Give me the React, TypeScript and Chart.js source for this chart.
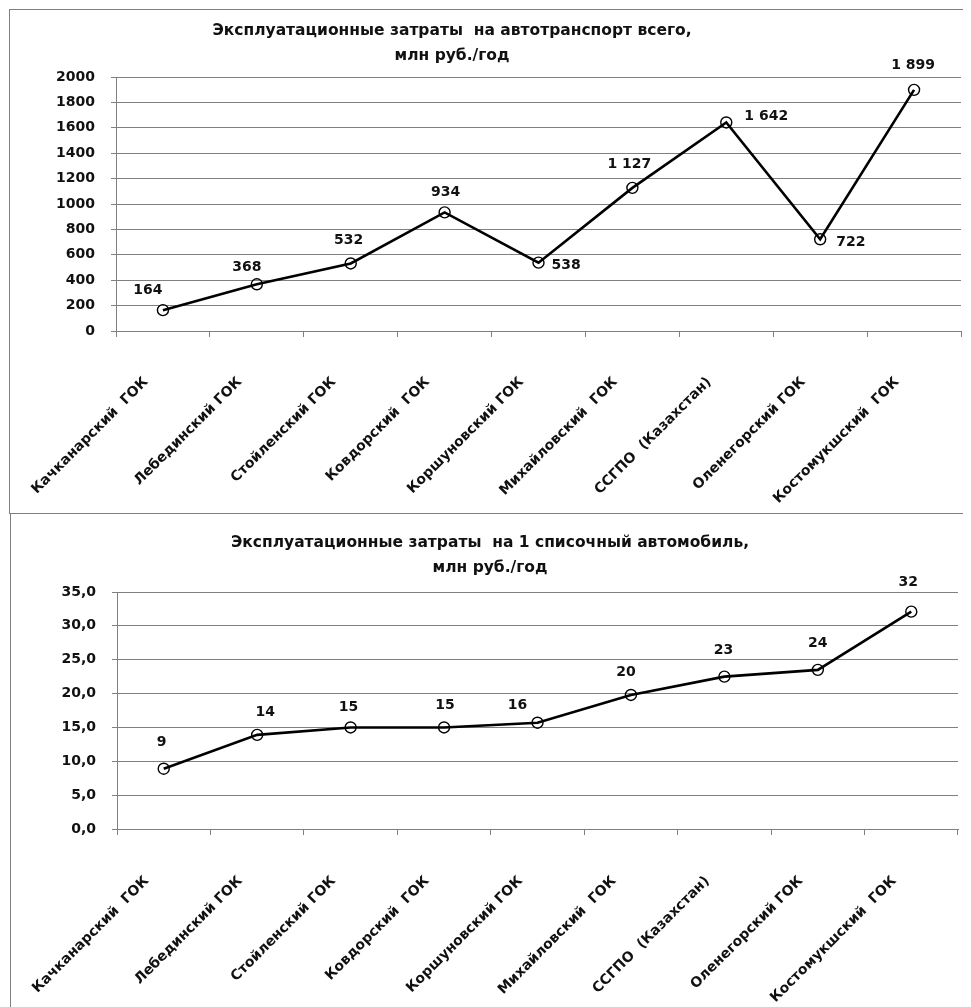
import React, { useEffect, useRef } from 'react';
import { Chart, registerables } from 'chart.js';

Chart.register(...registerables);

// ---------- data ----------
const categories = [
  'Качканарский  ГОК',
  'Лебединский ГОК',
  'Стойленский ГОК',
  'Ковдорский  ГОК',
  'Коршуновский ГОК',
  'Михайловский  ГОК',
  'ССГПО  (Казахстан)',
  'Оленегорский ГОК',
  'Костомукшский  ГОК',
];

const totalCosts = [164, 368, 532, 934, 538, 1127, 1642, 722, 1899];
const perVehicleCosts = [8.9, 13.9, 15.0, 15.0, 15.7, 19.8, 22.5, 23.5, 32.1];

const totalTitle = ['Эксплуатационные затраты  на автотранспорт всего,', 'млн руб./год'];
const perVehicleTitle = ['Эксплуатационные затраты  на 1 списочный автомобиль,', 'млн руб./год'];

const totalAxis = { min: 0, max: 2000, step: 200 };
const perVehicleAxis = { min: 0, max: 35, step: 5 };

// ---------- styles ----------
const FONT = '"DejaVu Sans", sans-serif';
const GRID = '#808080';
const TEXT = '#111111';

// label placement relative to each point: [dx, dy, textAlign]
const totalLabelPlacement: [number, number, CanvasTextAlign][] = [
  [-15, -20, 'center'],
  [-10, -17, 'center'],
  [-2, -23, 'center'],
  [1, -20, 'center'],
  [13, 3, 'left'],
  [-3, -24, 'center'],
  [18, -6, 'left'],
  [16, 3, 'left'],
  [-1, -24, 'center'],
];
const perVehicleLabelPlacement: [number, number, CanvasTextAlign][] = [
  [-2, -26, 'center'],
  [8, -23, 'center'],
  [-2, -20, 'center'],
  [1, -22, 'center'],
  [-20, -17, 'center'],
  [-5, -23, 'center'],
  [-1, -26, 'center'],
  [0, -27, 'center'],
  [-3, -29, 'center'],
];

const fmtThousands = (v: number) =>
  String(Math.round(v)).replace(/\B(?=(\d{3})+(?!\d))/g, ' ');
const fmtInt = (v: number) => String(Math.round(v));
const fmtComma1 = (v: number) => v.toFixed(1).replace('.', ',');

type Spec = {
  width: number;
  height: number;
  values: number[];
  title: string[];
  titleX: number;
  titleY: number;
  axis: { min: number; max: number; step: number };
  tickFmt: (v: number) => string;
  labelFmt: (v: number) => string;
  placement: [number, number, CanvasTextAlign][];
  padTop: number;
  padRight: number;
  yWidth: number;
  xHeight: number;
  xLabelPad: number;
};

function LineChart({ spec }: { spec: Spec }) {
  const ref = useRef<HTMLCanvasElement>(null);
  useEffect(() => {
    const overlay = {
      id: 'overlay',
      afterDatasetsDraw(chart: any) {
        const ctx = chart.ctx as CanvasRenderingContext2D;
        const meta = chart.getDatasetMeta(0);
        ctx.save();
        ctx.fillStyle = TEXT;
        ctx.textBaseline = 'middle';
        ctx.font = `bold 14px ${FONT}`;
        meta.data.forEach((pt: any, i: number) => {
          const [dx, dy, align] = spec.placement[i];
          ctx.textAlign = align;
          ctx.fillText(spec.labelFmt(spec.values[i]), pt.x + dx, pt.y + dy);
        });
        ctx.font = `bold 15.5px ${FONT}`;
        ctx.textAlign = 'center';
        spec.title.forEach((line, j) => {
          ctx.fillText(line, spec.titleX, spec.titleY + j * 25);
        });
        ctx.restore();
      },
    };
    const chart = new Chart(ref.current!, {
      type: 'line',
      data: {
        labels: categories,
        datasets: [
          {
            data: spec.values,
            borderColor: '#000',
            borderWidth: 2.6,
            pointRadius: 5.5,
            pointBorderWidth: 1.4,
            pointBorderColor: '#000',
            pointBackgroundColor: 'rgba(0,0,0,0)',
            tension: 0,
          },
        ],
      },
      options: {
        responsive: false,
        animation: false,
        layout: { padding: { top: spec.padTop, right: spec.padRight, left: 0, bottom: 0 } },
        plugins: { legend: { display: false }, tooltip: { enabled: false }, title: { display: false } },
        scales: {
          x: {
            type: 'category',
            offset: true,
            grid: { offset: true, drawOnChartArea: false, drawTicks: true, tickLength: 6, color: GRID },
            border: { display: true, color: GRID, width: 1 },
            ticks: {
              autoSkip: false,
              minRotation: 45,
              maxRotation: 45,
              padding: spec.xLabelPad,
              labelOffset: -17,
              color: TEXT,
              font: { family: FONT, size: 14, weight: 'bold' },
            },
            afterFit: (s: any) => {
              s.height = spec.xHeight;
              s.paddingLeft = 0;
              s.paddingRight = 0;
            },
          },
          y: {
            min: spec.axis.min,
            max: spec.axis.max,
            grid: { color: GRID, tickLength: 5, drawTicks: true },
            border: { display: true, color: GRID, width: 1 },
            ticks: {
              stepSize: spec.axis.step,
              padding: 16,
              color: TEXT,
              font: { family: FONT, size: 14, weight: 'bold' },
              callback: (v: any) => spec.tickFmt(Number(v)),
            },
            afterFit: (s: any) => {
              s.width = spec.yWidth;
              s.paddingTop = 0;
              s.paddingBottom = 0;
            },
          },
        },
      },
      plugins: [overlay],
    } as any);
    return () => chart.destroy();
  }, [spec]);
  return <canvas ref={ref} width={spec.width} height={spec.height} style={{ display: 'block' }} />;
}

const topSpec: Spec = {
  width: 960,
  height: 503,
  values: totalCosts,
  title: totalTitle,
  titleX: 442,
  titleY: 21,
  axis: totalAxis,
  tickFmt: (v) => String(v),
  labelFmt: fmtThousands,
  placement: totalLabelPlacement,
  padTop: 67,
  padRight: 9,
  yWidth: 106,
  xHeight: 182,
  xLabelPad: 37,
};

const bottomSpec: Spec = {
  width: 959,
  height: 493,
  values: perVehicleCosts,
  title: perVehicleTitle,
  titleX: 479,
  titleY: 29,
  axis: perVehicleAxis,
  tickFmt: fmtComma1,
  labelFmt: fmtInt,
  placement: perVehicleLabelPlacement,
  padTop: 78,
  padRight: 12,
  yWidth: 106,
  xHeight: 178,
  xLabelPad: 38,
};

export default function App() {
  useEffect(() => {
    document.body.style.overflow = 'hidden';
  }, []);
  const border = '1px solid #7f7f7f';
  return (
    <div style={{ fontFamily: FONT }}>
      <div
        style={{
          marginLeft: 1,
          marginTop: 1,
          width: 961,
          borderLeft: border,
          borderTop: border,
          borderBottom: border,
          boxSizing: 'border-box',
        }}
      >
        <LineChart spec={topSpec} />
      </div>
      <div style={{ marginLeft: 2, width: 960, borderLeft: border, boxSizing: 'border-box' }}>
        <LineChart spec={bottomSpec} />
      </div>
    </div>
  );
}
